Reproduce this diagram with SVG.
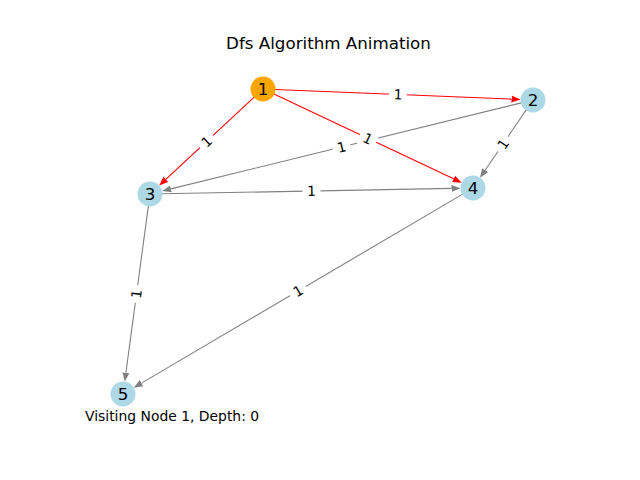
<svg xmlns="http://www.w3.org/2000/svg" width="640" height="480" viewBox="0 0 640 480">
<style>
  text { font-family: "DejaVu Sans", "Liberation Sans", sans-serif; fill: #000; }
  .title { font-size: 16.7px; text-anchor: middle; }
  .nl { font-size: 16.7px; text-anchor: middle; dominant-baseline: central; }
  .el { font-size: 13.9px; text-anchor: middle; dominant-baseline: central; }
  .info { font-size: 13.9px; }
  .e { fill: none; stroke-width: 1.1; }
  .red { stroke: #ff0000; }
  .gray { stroke: #808080; }
  .node { stroke: none; }
  .visited { fill: #ffa500; }
  .unvisited { fill: #add8e6; }
  .lb { fill: #ffffff; stroke: none; }
</style>
<defs>
  <marker id="ar" markerUnits="userSpaceOnUse" markerWidth="10" markerHeight="8" viewBox="0 -4 10 8" refX="0" refY="0" orient="auto">
    <path d="M0,-3.5 L9,0 L0,3.5 z" fill="#ff0000"/>
  </marker>
  <marker id="ag" markerUnits="userSpaceOnUse" markerWidth="10" markerHeight="8" viewBox="0 -4 10 8" refX="0" refY="0" orient="auto">
    <path d="M0,-3.5 L9,0 L0,3.5 z" fill="#808080"/>
  </marker>
</defs>
<rect width="640" height="480" fill="#ffffff"/>
<text class="title" x="328.5" y="49">Dfs Algorithm Animation</text>
<g id="connectors">
  <path id="e2-3" class="e gray" d="M521.3,102.9 L170.9,188.9" marker-end="url(#ag)"/>
  <path id="e2-4" class="e gray" d="M526.2,109.9 L485.1,170.2" marker-end="url(#ag)"/>
  <path id="e3-4" class="e gray" d="M162.0,193.8 L451.5,188.4" marker-end="url(#ag)"/>
  <path id="e3-5" class="e gray" d="M148.4,205.9 L125.9,372.7" marker-end="url(#ag)"/>
  <path id="e4-5" class="e gray" d="M462.7,194.1 L141.5,383.1" marker-end="url(#ag)"/>
  <path id="e1-2" class="e red" d="M275.0,89.5 L511.5,99.1" marker-end="url(#ar)"/>
  <path id="e1-3" class="e red" d="M254.2,97.2 L165.8,179.4" marker-end="url(#ar)"/>
  <path id="e1-4" class="e red" d="M273.9,94.1 L453.6,178.8" marker-end="url(#ar)"/>
</g>
<g id="nodes">
  <g id="node1"><circle class="node visited" cx="263" cy="89" r="12.5"/><text class="nl" x="263" y="89">1</text></g>
  <g id="node2"><circle class="node unvisited" cx="533" cy="100" r="12.5"/><text class="nl" x="533" y="100">2</text></g>
  <g id="node3"><circle class="node unvisited" cx="150" cy="194" r="12.5"/><text class="nl" x="150" y="194">3</text></g>
  <g id="node4"><circle class="node unvisited" cx="473" cy="188" r="12.5"/><text class="nl" x="473" y="188">4</text></g>
  <g id="node5"><circle class="node unvisited" cx="123" cy="394" r="12.5"/><text class="nl" x="123" y="394">5</text></g>
</g>
<g id="edge-labels">
  <g transform="translate(398,94.5) rotate(2.33)"><rect class="lb" x="-9" y="-10" width="18" height="20" rx="4"/><text class="el" x="0" y="0">1</text></g>
  <g transform="translate(206.5,141.5) rotate(-42.9)"><rect class="lb" x="-9" y="-10" width="18" height="20" rx="4"/><text class="el" x="0" y="0">1</text></g>
  <g transform="translate(341.5,147) rotate(-13.8)"><rect class="lb" x="-9" y="-10" width="18" height="20" rx="4"/><text class="el" x="0" y="0">1</text></g>
  <g transform="translate(368,138.5) rotate(25.2)"><rect class="lb" x="-9" y="-10" width="18" height="20" rx="4"/><text class="el" x="0" y="0">1</text></g>
  <g transform="translate(503,144) rotate(-55.7)"><rect class="lb" x="-9" y="-10" width="18" height="20" rx="4"/><text class="el" x="0" y="0">1</text></g>
  <g transform="translate(311.5,191) rotate(-1.06)"><rect class="lb" x="-9" y="-10" width="18" height="20" rx="4"/><text class="el" x="0" y="0">1</text></g>
  <g transform="translate(136.5,294) rotate(-82.3)"><rect class="lb" x="-9" y="-10" width="18" height="20" rx="4"/><text class="el" x="0" y="0">1</text></g>
  <g transform="translate(298,291) rotate(-30.5)"><rect class="lb" x="-9" y="-10" width="18" height="20" rx="4"/><text class="el" x="0" y="0">1</text></g>
</g>
<text class="info" x="85" y="420.5">Visiting Node 1, Depth: 0</text>
</svg>
